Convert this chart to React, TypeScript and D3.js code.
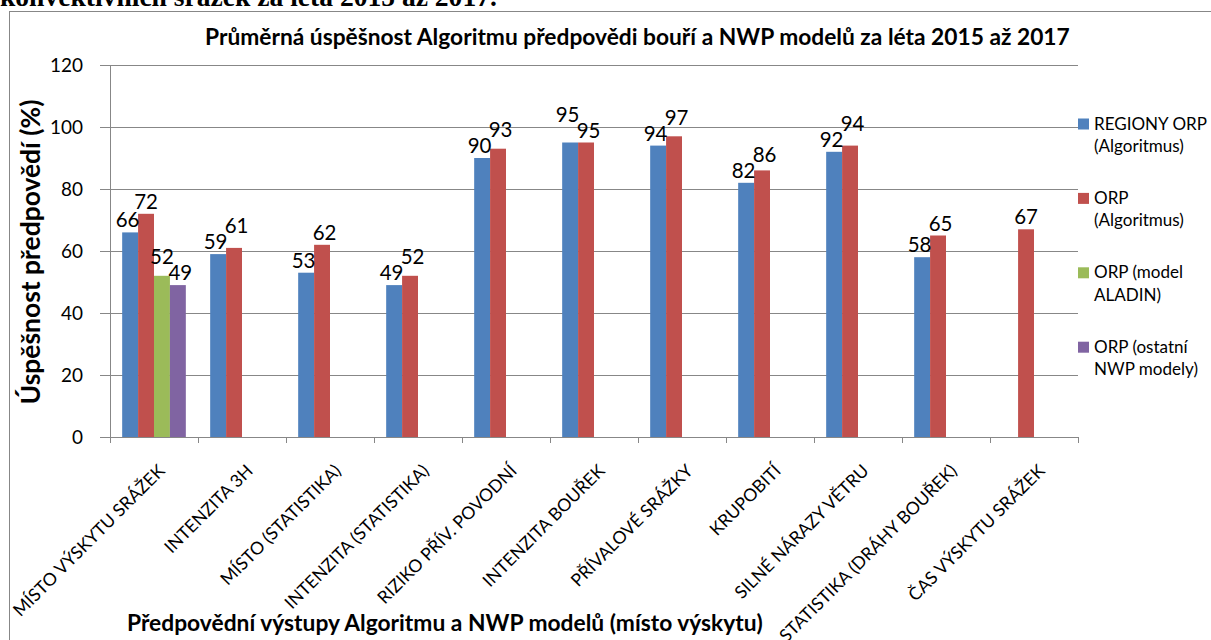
import React, { useEffect, useRef } from "react";
import * as d3 from "d3";

const categories = [
  "MÍSTO VÝSKYTU SRÁŽEK",
  "INTENZITA 3H",
  "MÍSTO (STATISTIKA)",
  "INTENZITA (STATISTIKA)",
  "RIZIKO PŘÍV. POVODNÍ",
  "INTENZITA BOUŘEK",
  "PŘÍVALOVÉ SRÁŽKY",
  "KRUPOBITÍ",
  "SILNÉ NÁRAZY VĚTRU",
  "STATISTIKA (DRÁHY BOUŘEK)",
  "ČAS VÝSKYTU SRÁŽEK",
];
const regionyOrpAlg: (number | null)[] = [66, 59, 53, 49, 90, 95, 94, 82, 92, 58, null];
const orpAlg: (number | null)[] = [72, 61, 62, 52, 93, 95, 97, 86, 94, 65, 67];
const orpAladin: (number | null)[] = [52, null, null, null, null, null, null, null, null, null, null];
const orpOtherNwp: (number | null)[] = [49, null, null, null, null, null, null, null, null, null, null];
const seriesKeys = ["regiony", "orp", "aladin", "other"];
const seriesLegend = [
  ["REGIONY ORP", "(Algoritmus)"],
  ["ORP", "(Algoritmus)"],
  ["ORP (model", "ALADIN)"],
  ["ORP (ostatní", "NWP modely)"],
];
const yTicks = [0, 20, 40, 60, 80, 100, 120];
const chartTitle = "Průměrná úspěšnost Algoritmu předpovědi bouří a NWP modelů za léta 2015 až 2017";
const yTitle = "Úspěšnost předpovědí (%)";
const xTitle = "Předpovědní výstupy Algoritmu a NWP modelů (místo výskytu)";
const pageText = "konvektivních srážek za léta 2015 až 2017.";

const COLORS = ["#4F81BD", "#C0504D", "#9BBB59", "#8064A2"];
const GRID = "#878787";
const FONT = "Lato, 'Open Sans', sans-serif";

function fitWidth(sel: any, target: number) {
  const node = sel.node() as SVGTextElement;
  const w = node.getComputedTextLength();
  const fs = parseFloat(sel.attr("font-size"));
  const nf = w > 0 ? (fs * target) / w : fs;
  sel.attr("font-size", nf);
  return nf;
}

export default function App() {
  const ref = useRef<SVGSVGElement | null>(null);

  useEffect(() => {
    const svg = d3.select(ref.current);
    svg.selectAll("*").remove();

    const W = 1211, H = 640;
    const left = 110, right = 1078, top = 65, bottom = 437;

    // page text (cut off at top)
    const pt = svg.append("text").attr("x", 0).attr("y", 6)
      .attr("font-family", "'Liberation Serif', 'Times New Roman', serif")
      .attr("font-weight", "bold").attr("font-size", 26).attr("fill", "#000").text(pageText);
    fitWidth(pt, 497);

    // chart frame
    svg.append("rect").attr("x", 9.5).attr("y", 11.5).attr("width", W + 40).attr("height", H + 40)
      .attr("fill", "#fff").attr("stroke", GRID).attr("stroke-width", 1);

    const x = d3.scaleBand<string>().domain(categories).range([left, right]).paddingInner(0).paddingOuter(0);
    const xs = d3.scaleBand<string>().domain(seriesKeys).range([0, x.bandwidth()]).paddingInner(0).paddingOuter(0.765);
    const y = d3.scaleLinear().domain([0, 120]).range([bottom, top]);

    // title
    const t = svg.append("text").attr("x", 205).attr("y", 45).attr("font-family", FONT)
      .attr("font-weight", "bold").attr("font-size", 17).attr("fill", "#000").text(chartTitle);
    fitWidth(t, 865);

    // gridlines
    svg.append("g").selectAll("line").data(yTicks).join("line")
      .attr("x1", left - 10).attr("x2", right)
      .attr("y1", (d) => Math.round(y(d)) + 0.5).attr("y2", (d) => Math.round(y(d)) + 0.5)
      .attr("stroke", GRID).attr("stroke-width", 1);
    // y axis line
    svg.append("line").attr("x1", left + 0.5).attr("x2", left + 0.5).attr("y1", y(120)).attr("y2", y(0))
      .attr("stroke", GRID);
    // x tick marks at band boundaries
    const bounds = categories.map((c) => x(c)!).concat([right]);
    svg.append("g").selectAll("line").data(bounds).join("line")
      .attr("x1", (d) => Math.round(d) + 0.5).attr("x2", (d) => Math.round(d) + 0.5)
      .attr("y1", y(0)).attr("y2", y(0) + 6).attr("stroke", GRID);

    // y tick labels
    const yl = svg.append("g").selectAll("text").data(yTicks).join("text")
      .attr("x", 83).attr("y", (d) => y(d)).attr("dy", "0.36em").attr("text-anchor", "end")
      .attr("font-family", FONT).attr("font-size", 19).attr("fill", "#000").text((d) => String(d));
    const fsY = fitWidth(yl.filter((d) => d === 120), 33);
    yl.attr("font-size", fsY);

    // y title
    const yt = svg.append("text").attr("transform", "translate(40,252) rotate(-90)")
      .attr("text-anchor", "middle").attr("font-family", FONT).attr("font-weight", "bold")
      .attr("font-size", 20).attr("fill", "#000").text(yTitle);
    fitWidth(yt, 305);

    // bars
    const allSeries = [regionyOrpAlg, orpAlg, orpAladin, orpOtherNwp];
    type B = { cat: string; ci: number; key: string; v: number; i: number; lx: number; ly: number; w: number };
    const barData: B[] = [];
    allSeries.forEach((arr, si) => {
      arr.forEach((v, ci) => {
        if (v != null) barData.push({ cat: categories[ci], ci, key: seriesKeys[si], v, i: si, lx: 0, ly: 0, w: 0 });
      });
    });
    svg.append("g").selectAll("rect").data(barData).join("rect")
      .attr("x", (d) => x(d.cat)! + xs(d.key)!)
      .attr("width", xs.bandwidth())
      .attr("y", (d) => y(d.v))
      .attr("height", (d) => y(0) - y(d.v))
      .attr("fill", (d) => COLORS[d.i]);

    // data labels with simple collision avoidance
    const fsD = fsY * 1.08;
    const capH = fsD * 0.72;
    barData.forEach((d) => {
      d.lx = x(d.cat)! + xs(d.key)! + xs.bandwidth() / 2;
      d.ly = y(d.v) - 5;
    });
    const labels = svg.append("g").selectAll("text").data(barData).join("text")
      .attr("text-anchor", "middle").attr("font-family", FONT).attr("font-size", fsD)
      .attr("fill", "#000").text((d) => String(d.v));
    labels.each(function (d) { d.w = (this as SVGTextElement).getComputedTextLength(); });
    categories.forEach((_, ci) => {
      const group = barData.filter((d) => d.ci === ci).sort((a, b) => a.i - b.i);
      for (let k = 0; k + 1 < group.length; k++) {
        const a = group[k], b = group[k + 1];
        let hov = (a.lx + a.w / 2) - (b.lx - b.w / 2);
        if (hov > 0) {
          const push = Math.min(hov / 2, 2.5);
          a.lx -= push; b.lx += push; hov -= push * 2;
        }
        if (hov > 0 && Math.abs(a.ly - b.ly) < capH + 1) {
          const hi = b.v >= a.v && !(b.v === a.v) ? b : a;
          const lo = hi === a ? b : a;
          hi.ly = Math.min(hi.ly, lo.ly - capH - 1);
        }
      }
    });
    labels.attr("x", (d) => d.lx).attr("y", (d) => d.ly);

    // category labels
    const cl = svg.append("g").selectAll("text").data(categories).join("text")
      .attr("transform", (d) => `translate(${x(d)! + x.bandwidth() / 2 + 3},463) rotate(-45)`)
      .attr("text-anchor", "end").attr("dy", "0.72em")
      .attr("font-family", FONT).attr("font-size", 15).attr("fill", "#000").text((d) => d);
    const fsC = fitWidth(cl.filter((d, i) => i === 0), 206);
    cl.attr("font-size", fsC);

    // x title
    const xt = svg.append("text").attr("x", 127).attr("y", 631).attr("font-family", FONT)
      .attr("font-weight", "bold").attr("font-size", 19).attr("fill", "#000").text(xTitle);
    fitWidth(xt, 636);

    // legend
    const lg = svg.append("g").selectAll("g").data(seriesLegend).join("g")
      .attr("transform", (d, i) => `translate(1078,${129.5 + i * 74.4})`);
    lg.append("rect").attr("x", 0).attr("y", -11).attr("width", 11).attr("height", 11)
      .attr("fill", (d, i) => COLORS[i]);
    const lt = lg.append("text").attr("x", 16).attr("y", 0).attr("font-family", FONT)
      .attr("font-size", 17).attr("fill", "#000");
    lt.append("tspan").attr("x", 16).attr("dy", 0).text((d) => d[0]);
    lt.append("tspan").attr("x", 16).attr("dy", 22.5).text((d) => d[1]);
    const firstSpan = lt.filter((d, i) => i === 0).select("tspan");
    const w0 = (firstSpan.node() as SVGTSpanElement).getComputedTextLength();
    lt.attr("font-size", (17 * 113) / w0);
  }, []);

  return (
    <div style={{ position: "fixed", left: 0, top: 0, width: 1211, height: 640, background: "#fff" }}>
      <svg ref={ref} width={1211} height={640} style={{ display: "block" }} />
    </div>
  );
}
